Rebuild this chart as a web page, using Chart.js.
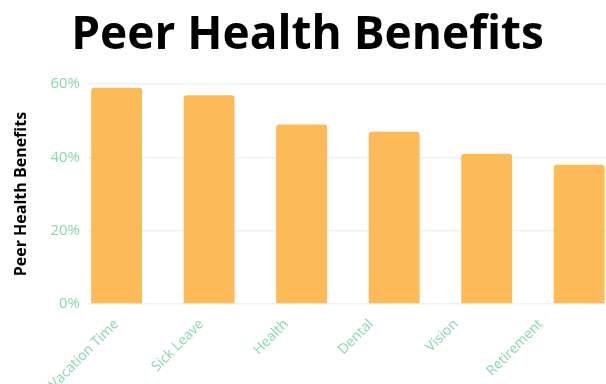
<!DOCTYPE html>
<html>
<head>
<meta charset="utf-8">
<script src="https://cdn.jsdelivr.net/npm/chart.js@4.4.1/dist/chart.umd.min.js"></script>
<style>
  html, body { margin: 0; padding: 0; background: #fff; overflow: hidden; }
  #wrap { width: 606px; height: 384px; }
</style>
</head>
<body>
<div id="wrap"><canvas id="benefitsChart"></canvas></div>
<script>
const categories = ['Vacation Time', 'Sick Leave', 'Health', 'Dental', 'Vision', 'Retirement'];
const shares = [59, 57, 49, 47, 41, 38];
const yTicks = [0, 20, 40, 60];

const tickGreen = '#86d9ae';
const gridGreen = '#e8f5f0';
// category labels sit a bit tighter than the bars in the original
const labelStep = 0.917;

new Chart(document.getElementById('benefitsChart'), {
  type: 'bar',
  data: {
    datasets: [{
      label: 'Peer Health Benefits',
      data: shares.map((v, i) => ({ x: i, y: v })),
      backgroundColor: '#fdba58',
      borderRadius: 3,
      borderSkipped: 'bottom',
      // bar width is taken from the (tighter) label spacing
      barPercentage: 0.6,
      categoryPercentage: 1
    }]
  },
  options: {
    responsive: true,
    maintainAspectRatio: false,
    animation: false,
    layout: { padding: { left: 9, right: 0, top: 0, bottom: 0 } },
    plugins: {
      legend: { display: false },
      tooltip: { enabled: false },
      title: {
        display: true,
        text: 'Peer Health Benefits',
        color: '#000',
        font: { family: 'Open Sans', size: 46, weight: 'bold' },
        padding: { top: 8, bottom: 21 }
      }
    },
    scales: {
      x: {
        type: 'linear',
        offset: false,
        min: -0.32,
        max: 5.29,
        grid: { display: false },
        border: { display: false },
        afterBuildTicks: (scale) => {
          scale.ticks = categories.map((c, i) => ({ value: i * labelStep, label: c }));
        },
        afterFit: (scale) => { scale.height = 80; },
        ticks: {
          autoSkip: false,
          minRotation: 45,
          maxRotation: 45,
          padding: 4,
          color: tickGreen,
          font: { family: 'Open Sans', size: 14 },
          callback: (v, i) => categories[i]
        }
      },
      y: {
        min: 0,
        max: 60,
        afterBuildTicks: (scale) => {
          scale.ticks = yTicks.map(v => ({ value: v }));
        },
        afterFit: (scale) => { scale.width = 78; },
        grid: { color: gridGreen, drawTicks: false, lineWidth: 1.5 },
        border: { display: false },
        ticks: {
          padding: 7,
          color: tickGreen,
          font: { family: 'Open Sans', size: 15 },
          callback: (v) => v + '%'
        },
        title: {
          display: true,
          text: 'Peer Health Benefits',
          color: '#000',
          font: { family: 'Open Sans', size: 16, weight: 'bold' },
          padding: { top: 3, bottom: 4 }
        }
      }
    }
  }
});
</script>
</body>
</html>
